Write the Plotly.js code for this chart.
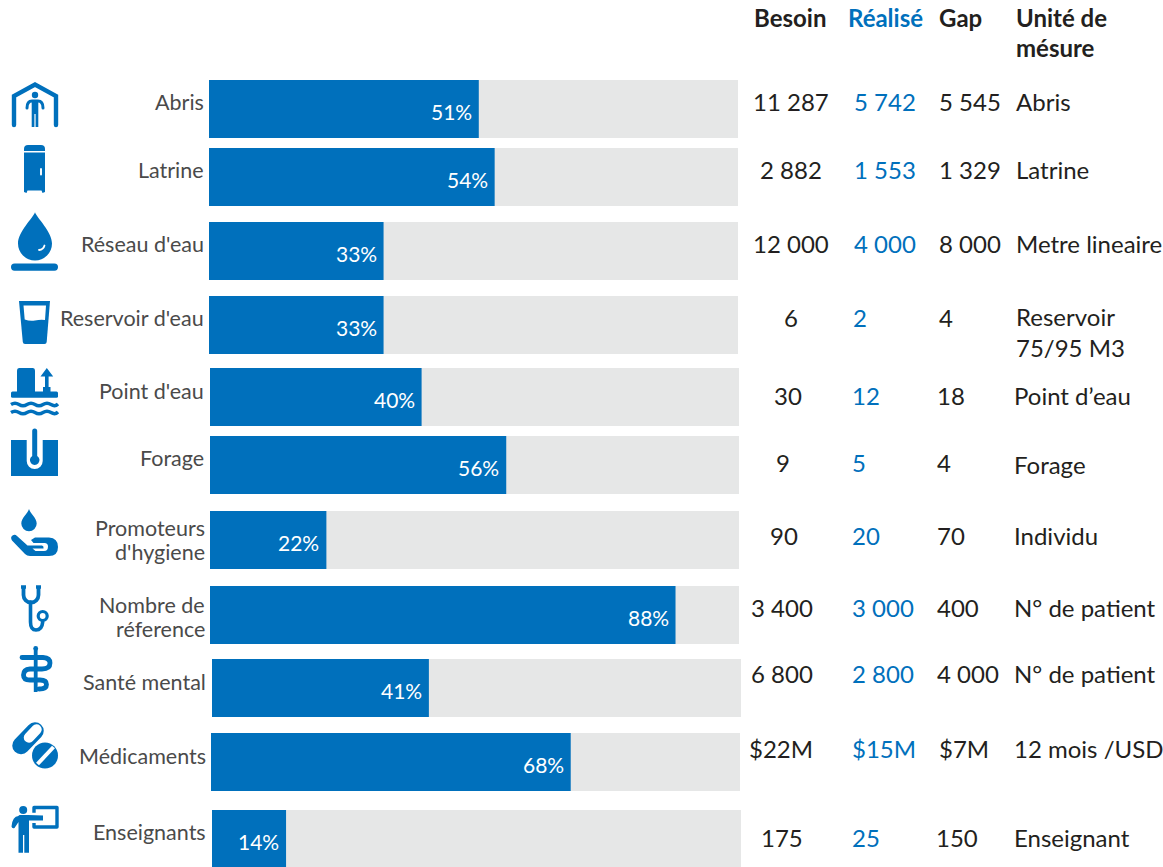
<!DOCTYPE html>
<html><head><meta charset="utf-8">
<script src="https://cdn.plot.ly/plotly-3.0.1.min.js"></script>
<style>html,body{margin:0;padding:0;background:#fff}#c{width:1163px;height:867px}</style>
</head><body><div id="c"></div>
<script>
const categories=["Abris","Latrine","Réseau d'eau","Reservoir d'eau","Point d'eau","Forage","Promoteurs<br>d'hygiene","Nombre de<br>réference","Santé mental","Médicaments","Enseignants"];
const percents=[51,54,33,33,40,56,22,88,41,68,14];
const besoin=["11 287","2 882","12 000","6","30","9","90","3 400","6 800","$22M","175"];
const realise=["5 742","1 553","4 000","2","12","5","20","3 000","2 800","$15M","25"];
const gap=["5 545","1 329","8 000","4","18","4","70","400","4 000","$7M","150"];
const unite=["Abris","Latrine","Metre lineaire","Reservoir<br>75/95 M3","Point d’eau","Forage","Individu","N° de patient","N° de patient","12 mois /USD","Enseignant"];
// layout helpers (row geometry, in px)
const rowY=[109,177,251,325,397,465,540,615,688,762,839];
const rowOff=[0,0,0,0,1,1,1,1,3,2,3];
const labelY=[103,171,245,319,392,459,541,618,683,757,833];
const labelR=[205,205,205,205,205,205,206,206,207,207,207];
const besX=[791,791,791,791,788,783,784,782,782,781,782];
const besY=[103,171,245,319,397,464,537,609,675,750,839];
const reaX=[885,885,885,860,866,859,866,883,883,884,866];
const gapX=[970,970,970,946,951,944,951,958,968,964,957];
const uniX=[1015,1015,1015,1015,1013,1013,1013,1013,1013,1013,1013];
const uniY=[103,171,245,333,397,466,537,609,675,750,839];
const PX=5.29, X0=209, W=1163, H=867;
const blue='#0070bc', grey='#e6e7e7', dark='#231f20', lab='#4a4a4a', F='Lato, "Open Sans", sans-serif';

const icons=`
<g fill="none" stroke="${blue}" stroke-linecap="round" stroke-linejoin="round">
<path d="M14,125V96L35,84.5L56,96V125" stroke-width="4.4" stroke-linejoin="miter"/>
<path d="M27,108Q27,101 32,101H38Q43,101 43,108" stroke-width="3"/>
</g>
<g fill="${blue}">
<circle cx="35" cy="95" r="3.2"/><path d="M31.7,100H38.3V127H35.6V114H34.4V127H31.7Z"/>
<path d="M24,151V149Q24,145 28,145H41Q45,145 45,149V151Z"/>
<path d="M24,152.5H45V192L42.5,193L41.5,190.5H27.5L26.5,193L24,192Z"/>
<path d="M35,212.3C37,218 52,232 52,243.5A17,17 0 0 1 18,243.5C18,232 33,218 35,212.3Z"/>
<rect x="11" y="263.5" width="47" height="7.2" rx="3.6"/>
<path d="M19,301H50L46.7,342Q46.5,344 44.5,344H25Q23,344 22.8,342Z"/>
<path d="M17,370.5Q17,368 19,368H33Q35,368 35,370.5V392H17Z"/>
<rect x="11" y="391.5" width="47" height="6.2" rx="1.5"/>
<path d="M45,376.5H40.5L46.8,368L53.2,376.5H48.6V387H50.5V392H43V387H45Z"/>
<path d="M11,440H26.7V461A8,8 0 0 0 42.7,461V440H58V476H11Z"/>
<path d="M32.2,431A2.5,2.5 0 0 1 37.2,431V456A4.8,4.8 0 1 1 32.2,456Z"/>
<path d="M29,509C30,513 36.7,518 36.7,523.5A7.7,7.7 0 0 1 21.3,523.5C21.3,518 28,513 29,509Z"/>
<path d="M12,540.5Q10,537 12.5,535.5Q15,534 17,536L27.5,545.5H42Q44,546 43.5,548.5H32.5L35.5,551H44Q48,551 48,546.5Q48,543 44.5,543H33.5L31,540L35,537.5H49Q58,538 58,547Q58,556 49,556H30Q27,556 25,554Z"/>
<path d="M33.8,648H37.6V692H33.8Z"/>
<circle cx="35.7" cy="648.5" r="2.4"/>
<circle cx="45" cy="755.5" r="13"/>
<circle cx="23.2" cy="810" r="4"/>
<path d="M18.5,816Q18.5,815 20,815H28L43,815.5V820.5H29V833V852.7H24.3V835H23V852.7H18.5V833V822L14.5,828Q12,829 11.5,826.5Q12.5,816 18.5,816Z"/>
</g>
<path d="M39,250Q43.5,249.5 44.5,245.5" stroke="#fff" stroke-width="1.8" stroke-linecap="round" fill="none"/>
<path d="M23.5,305.5H46L45,320Q40,319.5 35,320.5Q30,321.5 24.7,319.5Z" fill="#fff"/>
<path d="M41,169V174.5" stroke="#fff" stroke-width="1.9" stroke-linecap="round"/>
<g fill="none" stroke="${blue}" stroke-width="3.4">
<path d="M11,404.5Q15,402 19,404.5T27,404.5T35,404.5T43,404.5T51,404.5T58,404"/>
<path d="M11,412.5Q15,410 19,412.5T27,412.5T35,412.5T43,412.5T51,412.5T58,412"/>
</g>
<g fill="none" stroke="${blue}" stroke-linecap="round">
<path d="M23.5,586V595A7.5,7.5 0 0 0 38.5,595V586" stroke-width="3.8" stroke-linecap="butt"/>
<path d="M21,587H26M36,587H41" stroke-width="3.4" stroke-linecap="butt"/>
<path d="M30.5,602V622Q30.5,630 36,630Q42,630 42.7,622" stroke-width="3.6"/>
<circle cx="42.7" cy="616" r="4.5" stroke-width="3.2"/>
<path d="M22,657.5H43Q50,658 50,663Q50,669 42,669H30Q23.5,669.5 23.5,675Q23.5,680 30,680H40Q46.5,680 46.5,684.5Q46.5,689 39,689" stroke-width="4.8"/>
<path d="M21,745.5L35,731" stroke-width="17.5"/>
</g>
<path d="M29,737.5L36.5,729.5" stroke="#fff" stroke-width="10.5" stroke-linecap="round" fill="none"/>
<path d="M37.5,764L53.5,747" stroke="#fff" stroke-width="4" fill="none"/>
<path d="M34,812.8V807.5H57V827H34V823" stroke="${blue}" stroke-width="3.4" fill="none" stroke-linejoin="round"/>
`;
const iconSrc='data:image/svg+xml;charset=utf-8,'+encodeURIComponent(`<svg xmlns="http://www.w3.org/2000/svg" width="${W}" height="${H}" viewBox="0 0 ${W} ${H}">${icons}</svg>`);

const base=rowOff.map(o=>o/PX);
const track={type:'bar',orientation:'h',x:percents.map(()=>100),y:rowY,base:base,width:58,marker:{color:grey,line:{width:0}},hoverinfo:'skip',showlegend:false};
const done={type:'bar',orientation:'h',x:percents,y:rowY,base:base,width:58,marker:{color:blue,line:{width:0}},hoverinfo:'skip',showlegend:false};

function note(text,px,py,size,color,anchor,weight){
  return {xref:'paper',yref:'paper',x:px/W,y:1-(py-1.5)/H,text:text,xanchor:anchor,yanchor:'middle',showarrow:false,align:anchor==='right'?'right':(anchor==='center'?'center':'left'),
    font:{family:F,size:size,color:color,weight:weight||400},borderpad:0};
}
const ann=[];
ann.push(note('Besoin',790,19.5,24,dark,'center',700));
ann.push(note('Réalisé',885,19.5,24,blue,'center',700));
ann.push(note('Gap',960,19.5,24,dark,'center',700));
ann.push(note('Unité de',1015,19.5,24,dark,'left',700));
ann.push(note('mésure',1015,48.5,24,dark,'left',700));
categories.forEach((c,i)=>{
  const lines=c.split('<br>');
  lines.forEach((t,k)=>ann.push(note(t,labelR[i],labelY[i]+(lines.length>1?(k?12:-12):0),21.5,lab,'right')));
  ann.push({xref:'x',yref:'y',x:percents[i]+rowOff[i]/PX,y:rowY[i]+2,xshift:-6,text:percents[i]+'%',xanchor:'right',yanchor:'middle',showarrow:false,font:{family:F,size:21,color:'#fff'},borderpad:0});
  ann.push(note(besoin[i],besX[i],besY[i],24,dark,'center'));
  ann.push(note(realise[i],reaX[i]-0.5,besY[i],24,blue,'center'));
  ann.push(note(gap[i],gapX[i],besY[i],24,dark,'center'));
  ann.push(note(unite[i],uniX[i],uniY[i],24,dark,'left'));
});
const layout={width:W,height:H,margin:{l:0,r:0,t:0,b:0,pad:0},paper_bgcolor:'#fff',plot_bgcolor:'#fff',barmode:'overlay',showlegend:false,
  xaxis:{range:[-X0/PX,(W-X0)/PX],visible:false,fixedrange:true},
  yaxis:{range:[H,0],visible:false,fixedrange:true},
  annotations:ann,
  images:[{source:iconSrc,xref:'paper',yref:'paper',x:0,y:1,sizex:1,sizey:1,sizing:'stretch',xanchor:'left',yanchor:'top',layer:'above'}]};
Plotly.newPlot('c',[track,done],layout,{displayModeBar:false,staticPlot:true});
</script></body></html>
